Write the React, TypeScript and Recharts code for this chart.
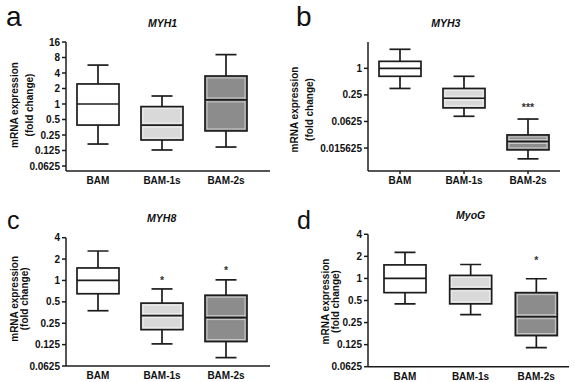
import React from 'react';
import { BarChart, Bar, XAxis, YAxis, Label } from 'recharts';

const FONT = "Arial, 'Liberation Sans', Helvetica, sans-serif";
const INK = '#1c1c1c';

const categories = ['BAM', 'BAM-1s', 'BAM-2s'];
const boxFills = ['#ffffff', '#d9d9d9', '#8c8c8c'];

// Panel a: MYH1
const myh1Min = [0.167, 0.128, 0.146];
const myh1Q1 = [0.39, 0.2, 0.3];
const myh1Median = [1.0, 0.39, 1.2];
const myh1Q3 = [2.45, 0.89, 3.5];
const myh1Max = [5.7, 1.43, 9.1];
const myh1Sig = ['', '', ''];
const myh1SigAt = [1, 1, 1];
const myh1Ticks = [16, 8, 4, 2, 1, 0.5, 0.25, 0.125, 0.0625];

// Panel b: MYH3
const myh3Min = [0.35, 0.082, 0.0089];
const myh3Q1 = [0.66, 0.127, 0.0142];
const myh3Median = [1.0, 0.21, 0.022];
const myh3Q3 = [1.44, 0.35, 0.031];
const myh3Max = [2.7, 0.66, 0.071];
const myh3Sig = ['', '', '***'];
const myh3SigAt = [1, 1, 0.145];
const myh3Ticks = [1, 0.25, 0.0625, 0.015625];

// Panel c: MYH8
const myh8Min = [0.375, 0.128, 0.082];
const myh8Q1 = [0.65, 0.203, 0.138];
const myh8Median = [1.0, 0.32, 0.3];
const myh8Q3 = [1.5, 0.48, 0.62];
const myh8Max = [2.6, 0.76, 1.02];
const myh8Sig = ['', '*', '*'];
const myh8SigAt = [1, 1.09, 1.5];
const myh8Ticks = [4, 2, 1, 0.5, 0.25, 0.125, 0.0625];

// Panel d: MyoG
const myogMin = [0.45, 0.32, 0.114];
const myogQ1 = [0.64, 0.45, 0.166];
const myogMedian = [1.0, 0.72, 0.3];
const myogQ3 = [1.53, 1.1, 0.64];
const myogMax = [2.27, 1.55, 0.99];
const myogSig = ['', '', '*'];
const myogSigAt = [1, 1, 1.9];
const myogTicks = [4, 2, 1, 0.5, 0.25, 0.125, 0.0625];

function buildRows(min: number[], q1: number[], med: number[], q3: number[], max: number[], sig: string[], sigAt: number[]) {
  return categories.map((name, i) => ({
    name,
    min: min[i],
    q1: q1[i],
    median: med[i],
    q3: q3[i],
    max: max[i],
    sig: sig[i],
    sigAt: sigAt[i],
    fill: boxFills[i],
  }));
}

const BoxShape = (props: any) => {
  const { x, y, width, height, payload } = props;
  if (!payload || x == null || y == null) return null;
  const top = Math.min(y, y + height);
  const bottom = Math.max(y, y + height);
  const lmax = Math.log(payload.max);
  const lmin = Math.log(payload.min);
  const pos = (v: number) => top + ((bottom - top) * (lmax - Math.log(v))) / (lmax - lmin);
  const cx = x + width / 2;
  const yq3 = pos(payload.q3);
  const yq1 = pos(payload.q1);
  const ymed = pos(payload.median);
  const cap = width / 4;
  const sw = 1.7;
  const halo = payload.fill === '#ffffff' ? 'none' : 'rgba(255,255,255,0.55)';
  return (
    <g>
      <line x1={cx} x2={cx} y1={top} y2={yq3} stroke={INK} strokeWidth={sw} />
      <line x1={cx} x2={cx} y1={yq1} y2={bottom} stroke={INK} strokeWidth={sw} />
      <line x1={cx - cap} x2={cx + cap} y1={top} y2={top} stroke={INK} strokeWidth={sw} />
      <line x1={cx - cap} x2={cx + cap} y1={bottom} y2={bottom} stroke={INK} strokeWidth={sw} />
      <rect x={x} y={yq3} width={width} height={yq1 - yq3} fill={payload.fill} stroke={INK} strokeWidth={sw} />
      <rect x={x + 2} y={yq3 + 2} width={width - 4} height={Math.max(0, yq1 - yq3 - 4)} fill="none" stroke={halo} strokeWidth={1} />
      <line x1={x + 2} x2={x + width - 2} y1={ymed - 2} y2={ymed - 2} stroke={halo} strokeWidth={1} />
      <line x1={x + 2} x2={x + width - 2} y1={ymed + 2} y2={ymed + 2} stroke={halo} strokeWidth={1} />
      <line x1={x} x2={x + width} y1={ymed} y2={ymed} stroke={INK} strokeWidth={sw} />
      {payload.sig ? (
        <text x={cx} y={pos(payload.sigAt) + 6} textAnchor="middle" fontFamily={FONT} fontSize={10.5} fontWeight={700} fill="#333">
          {payload.sig}
        </text>
      ) : null}
    </g>
  );
};

const panels = [
  {
    key: 'a', left: 0, top: 0, w: 290, h: 190, mt: 42, mr: 20, xh: 19, yw: 66,
    padL: 0, padR: 12, domain: [0.05, 16], ticks: myh1Ticks, xTick: false,
    lx1: 18, lx2: 33, ldy: -1.5,
    rows: buildRows(myh1Min, myh1Q1, myh1Median, myh1Q3, myh1Max, myh1Sig, myh1SigAt),
  },
  {
    key: 'b', left: 285, top: 0, w: 290, h: 190, mt: 42, mr: 15, xh: 19, yw: 83,
    padL: 0, padR: 0, domain: [0.00472, 3.95], ticks: myh3Ticks, xTick: true,
    lx1: 13, lx2: 28, ldy: 3,
    rows: buildRows(myh3Min, myh3Q1, myh3Median, myh3Q3, myh3Max, myh3Sig, myh3SigAt),
  },
  {
    key: 'c', left: 0, top: 190, w: 290, h: 192, mt: 47.7, mr: 20, xh: 16, yw: 66,
    padL: 0, padR: 12, domain: [0.0625, 4], ticks: myh8Ticks, xTick: false,
    lx1: 18.5, lx2: 28.5, ldy: -3,
    rows: buildRows(myh8Min, myh8Q1, myh8Median, myh8Q3, myh8Max, myh8Sig, myh8SigAt),
  },
  {
    key: 'd', left: 285, top: 190, w: 290, h: 192, mt: 44.3, mr: 6, xh: 15.3, yw: 83,
    padL: 4, padR: 0, domain: [0.0625, 4], ticks: myogTicks, xTick: false,
    lx1: 43.5, lx2: 53.5, ldy: 1,
    rows: buildRows(myogMin, myogQ1, myogMedian, myogQ3, myogMax, myogSig, myogSigAt),
  },
];

const titles = [
  { text: 'MYH1', x: 162.5, y: 27.3 },
  { text: 'MYH3', x: 445.8, y: 27 },
  { text: 'MYH8', x: 161.7, y: 222.3 },
  { text: 'MyoG', x: 470.7, y: 219.3 },
];

const letters = [
  { text: 'a', x: 6, y: 25.5, size: 28 },
  { text: 'b', x: 296, y: 25.5, size: 28 },
  { text: 'c', x: 7, y: 229.3, size: 25 },
  { text: 'd', x: 297, y: 229.3, size: 25 },
];

const makeYLabel = (lx1: number, lx2: number, ldy: number) => (props: any) => {
  const vb = props.viewBox || {};
  const cy = (vb.y || 0) + (vb.height || 0) / 2 + ldy;
  return (
    <g>
      <text x={lx1} y={cy} transform={`rotate(-90, ${lx1}, ${cy})`} textAnchor="middle" fontFamily={FONT} fontSize={10} fontWeight={700} fill="#111">
        mRNA expression
      </text>
      <text x={lx2} y={cy} transform={`rotate(-90, ${lx2}, ${cy})`} textAnchor="middle" fontFamily={FONT} fontSize={10} fontWeight={700} fill="#111">
        (fold change)
      </text>
    </g>
  );
};

function Panel({ p }: { p: any }) {
  const tickStyle = { fill: '#111', fontSize: 10, fontWeight: 700, fontFamily: FONT };
  const axisStyle = { stroke: INK, strokeWidth: 1.5 };
  return (
    <div style={{ position: 'absolute', left: p.left, top: p.top, width: p.w, height: p.h }}>
      <BarChart
        width={p.w}
        height={p.h}
        data={p.rows}
        margin={{ top: p.mt, right: p.mr, bottom: 0, left: 0 }}
        barSize={42}
      >
        <XAxis
          dataKey="name"
          type="category"
          height={p.xh}
          padding={{ left: p.padL, right: p.padR }}
          axisLine={axisStyle}
          tickLine={p.xTick ? axisStyle : false}
          tickSize={3}
          tickMargin={3}
          tick={tickStyle}
          interval={0}
        />
        <YAxis
          type="number"
          scale="log"
          domain={p.domain}
          ticks={p.ticks}
          allowDataOverflow
          width={p.yw}
          axisLine={axisStyle}
          tickLine={axisStyle}
          tickSize={4}
          tickMargin={2}
          tick={tickStyle}
          interval={0}
          tickFormatter={(v: number) => String(v)}
        >
          <Label content={makeYLabel(p.lx1, p.lx2, p.ldy)} />
        </YAxis>
        <Bar dataKey={(d: any) => [d.min, d.max]} shape={BoxShape} isAnimationActive={false} />
      </BarChart>
    </div>
  );
}

export default function App() {
  return (
    <div style={{ position: 'absolute', left: 0, top: 0, width: 575, height: 382, background: '#fff', overflow: 'hidden' }}>
      {panels.map((p) => (
        <Panel key={p.key} p={p} />
      ))}
      <svg width={575} height={382} style={{ position: 'absolute', left: 0, top: 0, pointerEvents: 'none' }}>
        {letters.map((l) => (
          <text key={l.text} x={l.x} y={l.y} fontFamily={FONT} fontSize={l.size} fill="#111">
            {l.text}
          </text>
        ))}
        {titles.map((t) => (
          <text key={t.text} x={t.x} y={t.y} textAnchor="middle" fontFamily={FONT} fontSize={10.5} fontWeight={700} fontStyle="italic" fill="#111">
            {t.text}
          </text>
        ))}
      </svg>
    </div>
  );
}
